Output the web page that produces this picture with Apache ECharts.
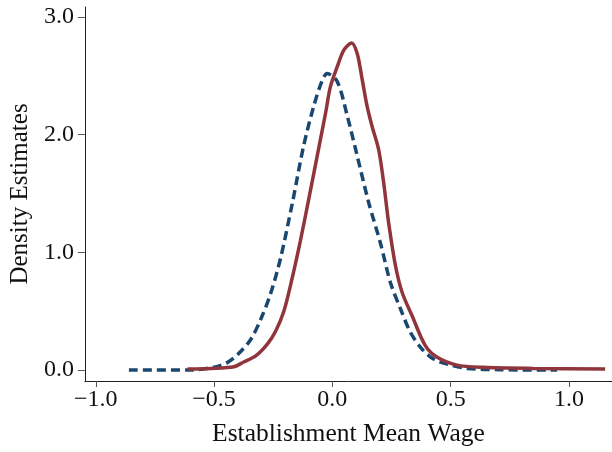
<!DOCTYPE html>
<html>
<head>
<meta charset="utf-8">
<script src="https://cdn.jsdelivr.net/npm/echarts@6/dist/echarts.min.js"></script>
<style>
html,body{margin:0;padding:0;background:#fff;}
#chart{width:612px;height:452px;}
</style>
</head>
<body>
<div id="chart"></div>
<script>
// Blue dashed density (x, density)
const blueX = [-0.86, -0.60, -0.50, -0.443, -0.396, -0.345, -0.303, -0.261, -0.219, -0.169, -0.122, -0.079, -0.043, -0.022, 0.021, 0.063, 0.105, 0.154, 0.203, 0.246, 0.288, 0.330, 0.379, 0.428, 0.485, 0.569, 0.71, 0.95];
const blueY = [0.0, 0.0, 0.025, 0.065, 0.14, 0.26, 0.43, 0.65, 0.95, 1.42, 1.90, 2.24, 2.46, 2.52, 2.45, 2.16, 1.82, 1.42, 1.08, 0.74, 0.52, 0.32, 0.178, 0.093, 0.051, 0.014, 0.003, 0.0];
// Red solid density (x, density)
const redX = [-0.612, -0.514, -0.416, -0.375, -0.324, -0.275, -0.24, -0.205, -0.17, -0.135, -0.10, -0.064, -0.029, -0.008, 0.021, 0.049, 0.081, 0.105, 0.126, 0.147, 0.168, 0.196, 0.217, 0.238, 0.267, 0.295, 0.337, 0.393, 0.443, 0.527, 0.638, 0.849, 1.153];
const redY = [0.008, 0.014, 0.028, 0.068, 0.12, 0.22, 0.33, 0.50, 0.78, 1.10, 1.45, 1.82, 2.18, 2.41, 2.58, 2.72, 2.78, 2.69, 2.47, 2.24, 2.07, 1.87, 1.59, 1.25, 0.884, 0.659, 0.461, 0.207, 0.108, 0.042, 0.023, 0.014, 0.008];
// Tick values
const xTicks = [-1.0, -0.5, 0.0, 0.5, 1.0];
const yTicks = [0, 1, 2, 3];
const xTitle = 'Establishment Mean Wage';
const yTitle = 'Density Estimates';

const pair = (xs, ys) => xs.map((x, i) => [x, ys[i]]);
const fmt = v => (v < 0 ? '\u2212' : '') + Math.abs(v).toFixed(1);
const FONT = 'Liberation Serif';
const TXT = '#111';

const chart = echarts.init(document.getElementById('chart'), null, {renderer: 'canvas'});
chart.setOption({
  animation: false,
  backgroundColor: '#fff',
  grid: {left: 84, right: 0, top: 7, bottom: 70},
  xAxis: {
    type: 'value', min: -1.046, max: 1.182,
    name: xTitle, nameLocation: 'middle', nameGap: 40,
    nameTextStyle: {fontFamily: FONT, fontSize: 25.5, color: TXT},
    axisLine: {onZero: false, lineStyle: {color: '#222', width: 1}},
    axisTick: {show: true, length: 6, customValues: xTicks, lineStyle: {color: '#555'}},
    axisLabel: {customValues: xTicks, formatter: fmt, fontFamily: FONT, fontSize: 24, color: TXT, margin: 7},
    splitLine: {show: false}
  },
  yAxis: {
    type: 'value', min: -0.093, max: 3.085,
    name: yTitle, nameLocation: 'middle', nameGap: 45, nameRotate: 90,
    nameTextStyle: {fontFamily: FONT, fontSize: 25, color: TXT},
    axisLine: {show: true, onZero: false, lineStyle: {color: '#222', width: 1}},
    axisTick: {show: true, length: 7, customValues: yTicks, lineStyle: {color: '#555'}},
    axisLabel: {customValues: yTicks, formatter: fmt, fontFamily: FONT, fontSize: 24, color: TXT, margin: 11},
    splitLine: {show: false}
  },
  series: [
    {
      type: 'line', data: pair(blueX, blueY), smooth: 0.3, showSymbol: false,
      lineStyle: {color: '#1a476f', width: 3.5, type: [9, 5]}, z: 2
    },
    {
      type: 'line', data: pair(redX, redY), smooth: 0.3, showSymbol: false,
      lineStyle: {color: '#90353b', width: 3.5, type: 'solid'}, z: 3
    }
  ]
});
</script>
</body>
</html>
